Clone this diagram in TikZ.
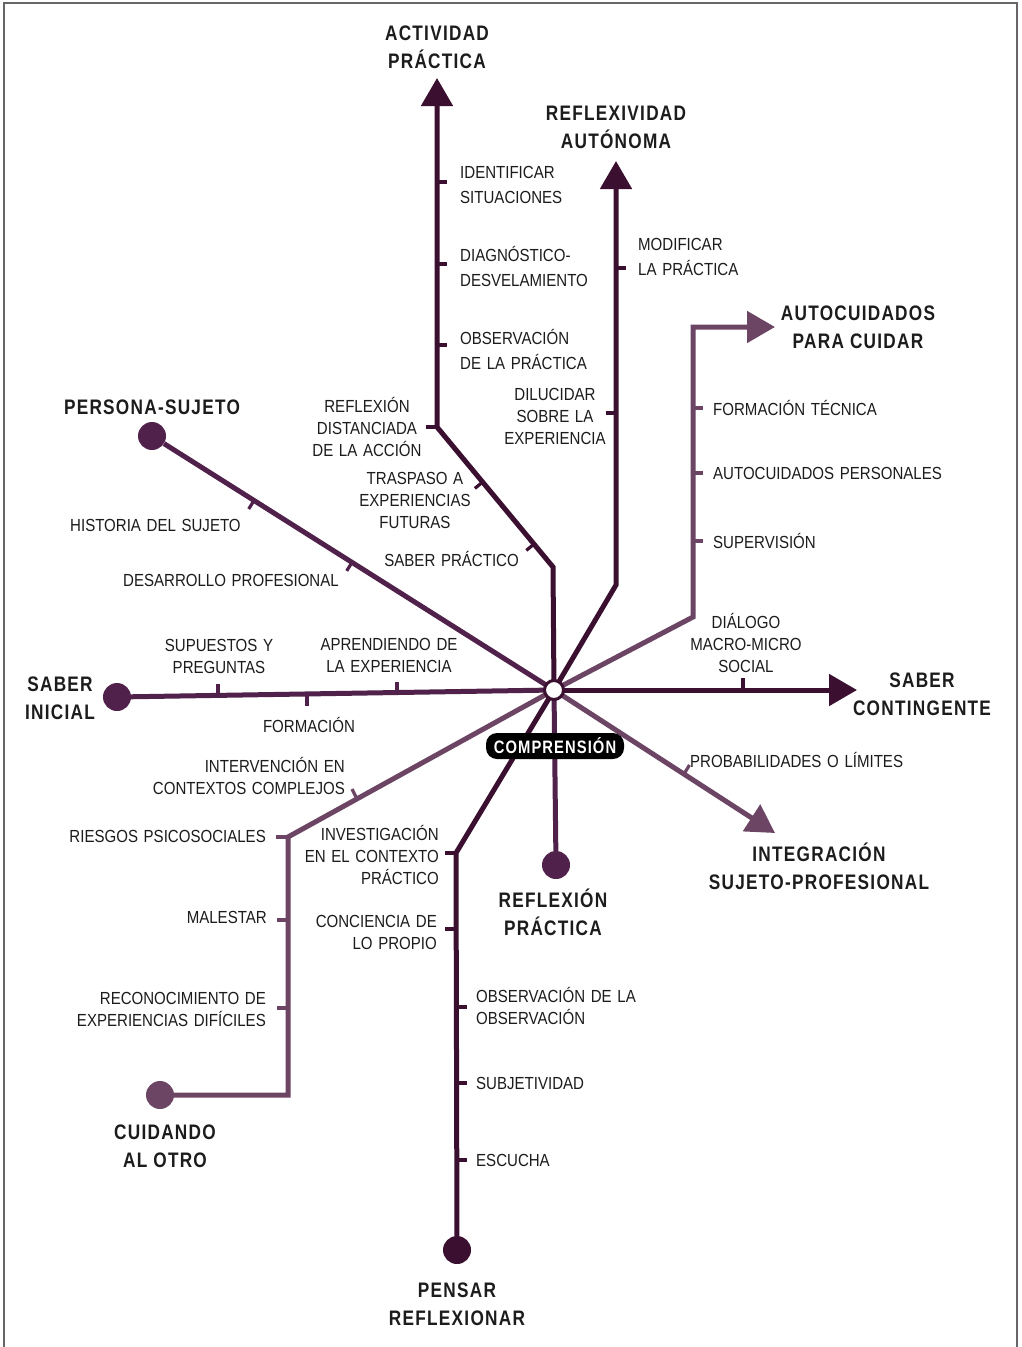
\documentclass[tikz,border=0pt]{standalone}
\usepackage{fontspec}
\setmainfont[FakeStretch=0.86,WordSpace=1.35]{Liberation Sans}
\newfontfamily\ttlfont[FakeStretch=0.82,LetterSpace=6]{Liberation Sans}
\usetikzlibrary{arrows.meta}
\definecolor{dk}{HTML}{3A0F30}
\definecolor{md}{HTML}{50214A}
\definecolor{lt}{HTML}{6C4464}
\definecolor{txt}{HTML}{1C1C1C}
\definecolor{framec}{HTML}{666666}
\tikzset{
  ln/.style={draw=#1, line width=5pt},
  tk/.style={draw=#1, line width=3.2pt},
  arr/.style={-{Triangle[length=28pt,width=31pt]}},
  dot/.style={circle, fill=#1, draw=none, minimum size=28pt, inner sep=0pt},
  hub/.style={circle, fill=white, draw=dk, line width=3pt, minimum size=19pt, inner sep=0pt},
  lbl/.style={font=\fontsize{17.5}{22}\selectfont, text=txt, inner sep=0pt},
  ttl/.style={font=\ttlfont\bfseries\fontsize{21}{28}\selectfont, text=txt, inner sep=0pt, align=center},
  cbox/.style={fill=black, rounded corners=11pt, minimum width=138pt, minimum height=26pt, inner sep=0pt,
     text=white, font=\ttlfont\bfseries\fontsize{18}{18}\selectfont},
}
\begin{document}
\begin{tikzpicture}[x=1pt,y=-1pt]
\useasboundingbox (0,0) rectangle (1021,1347);
\fill[white] (0,0) rectangle (1021,1347);
\draw[framec, line width=1.6pt] (4,1347) -- (4,3) -- (1017,3) -- (1017,1347);

\coordinate (c) at (554,690);
% bend points and arrow ends
\coordinate (ap1) at (553,567);
\coordinate (ap2) at (437,427);
\coordinate (apE) at (437,78);
\coordinate (ra1) at (616,585);
\coordinate (raE) at (616,161);
\coordinate (ac1) at (693,617);
\coordinate (ac2) at (693,327);
\coordinate (acE) at (775,327);
\coordinate (scE) at (857,690);
\coordinate (isE) at (775,833);
\coordinate (pr1) at (456,853);
\coordinate (cu1) at (288,837);
\coordinate (cu2) at (288,1095);

% end circles
\node[dot=md] (ps) at (152,436) {};
\node[dot=md] (si) at (117,697) {};
\node[dot=md] (rp) at (556,865) {};
\node[dot=dk] (pr) at (457,1250) {};
\node[dot=lt] (cu) at (160,1095) {};

% main lines
\draw[ln=lt, arr] (c) -- (ac1) -- (ac2) -- (acE);
\draw[ln=lt, arr] (c) -- (isE);
\draw[ln=lt] (c) -- (cu1) -- (cu2) -- (cu);
\draw[ln=md] (ps) -- (c);
\draw[ln=md] (si) -- (c);
\draw[ln=md] (c) -- (rp);
\draw[ln=dk, arr] (c) -- (ap1) -- (ap2) -- (apE);
\draw[ln=dk, arr] (c) -- (ra1) -- (raE);
\draw[ln=dk, arr] (c) -- (scE);
\draw[ln=dk] (c) -- (pr1) -- (pr);

% ticks
\draw[tk=dk] (437,182) -- +(10,0);
\draw[tk=dk] (437,264) -- +(10,0);
\draw[tk=dk] (437,345) -- +(10,0);
\draw[tk=dk] (437,427) -- +(-11,0);
\draw[tk=dk] (482.6,482) -- +(-7.7,6.4);
\draw[tk=dk] (534,544) -- +(-7.7,6.4);
\draw[tk=dk] (616,268) -- +(10,0);
\draw[tk=dk] (616,413) -- +(-10,0);
\draw[tk=lt] (693,408) -- +(10,0);
\draw[tk=lt] (693,473) -- +(10,0);
\draw[tk=lt] (693,541) -- +(10,0);
\draw[tk=dk] (743,690) -- +(0,-12);
\draw[tk=lt] (684,774) -- +(5.5,-9);
\draw[tk=dk] (456,853) -- +(-11,0);
\draw[tk=dk] (456,929) -- +(-11,0);
\draw[tk=dk] (456,1007) -- +(11,0);
\draw[tk=dk] (456,1083) -- +(11,0);
\draw[tk=dk] (456,1160) -- +(11,0);
\draw[tk=lt] (288,837) -- +(-12,0);
\draw[tk=lt] (288,920) -- +(-11,0);
\draw[tk=lt] (288,1008) -- +(-11,0);
\draw[tk=lt] (357,799) -- +(-5,-10);
\draw[tk=md] (218,695.4) -- +(0,-11);
\draw[tk=md] (307,694) -- +(0,12);
\draw[tk=md] (397,692.5) -- +(0,-11);
\draw[tk=md] (254,500.5) -- +(-5.3,8.5);
\draw[tk=md] (352,562.4) -- +(-5.3,8.5);

% hub and comprension
\node[hub] (hub) at (c) {};
\node[cbox] (comp) at (555,746) {COMPRENSIÓN};

% titles
\node[ttl] (tAP) at (437,47) {ACTIVIDAD\\PRÁCTICA};
\node[ttl] (tRA) at (616,127) {REFLEXIVIDAD\\AUTÓNOMA};
\node[ttl] (tAC) at (858,327) {AUTOCUIDADOS\\PARA CUIDAR};
\node[ttl] (tPS) at (152,407) {PERSONA-SUJETO};
\node[ttl] (tSI) at (60,698) {SABER\\INICIAL};
\node[ttl] (tSC) at (922,694) {SABER\\CONTINGENTE};
\node[ttl] (tIS) at (819,866) {INTEGRACIÓN\\SUJETO-PROFESIONAL};
\node[ttl] (tRP) at (553,912) {REFLEXIÓN\\PRÁCTICA};
\node[ttl] (tCU) at (165,1146) {CUIDANDO\\AL OTRO};
\node[ttl] (tPR) at (457,1304) {PENSAR\\REFLEXIONAR};

% small labels
\node[lbl, anchor=west, align=left] (l1) at (460,185) {IDENTIFICAR\\[3pt]SITUACIONES};
\node[lbl, anchor=west, align=left] (l2) at (460,266) {DIAGNÓSTICO-\\[3pt]DESVELAMIENTO};
\node[lbl, anchor=west, align=left] (l3) at (460,349) {OBSERVACIÓN\\[3pt]DE LA PRÁCTICA};
\node[lbl, align=center] (l4) at (367,427) {REFLEXIÓN\\DISTANCIADA\\DE LA ACCIÓN};
\node[lbl, align=center] (l5) at (415,500) {TRASPASO A\\EXPERIENCIAS\\FUTURAS};
\node[lbl, anchor=east] (l6) at (519,559) {SABER PRÁCTICO};
\node[lbl, anchor=west, align=left] (l7) at (638,257) {MODIFICAR\\[3pt]LA PRÁCTICA};
\node[lbl, align=center] (l8) at (555,416) {DILUCIDAR\\SOBRE LA\\EXPERIENCIA};
\node[lbl, anchor=west] (l9) at (713,408) {FORMACIÓN TÉCNICA};
\node[lbl, anchor=west] (l10) at (713,473) {AUTOCUIDADOS PERSONALES};
\node[lbl, anchor=west] (l11) at (713,541) {SUPERVISIÓN};
\node[lbl, align=center] (l12) at (746,643) {DIÁLOGO\\MACRO-MICRO\\SOCIAL};
\node[lbl, anchor=west] (l13) at (690,760) {PROBABILIDADES O LÍMITES};
\node[lbl, anchor=west] (l14) at (70,525) {HISTORIA DEL SUJETO};
\node[lbl, anchor=west] (l15) at (123,580) {DESARROLLO PROFESIONAL};
\node[lbl, align=center] (l16) at (219,656) {SUPUESTOS Y\\PREGUNTAS};
\node[lbl, align=center] (l17) at (389,655) {APRENDIENDO DE\\LA EXPERIENCIA};
\node[lbl] (l18) at (309,725) {FORMACIÓN};
\node[lbl, anchor=east, align=right] (l19) at (345,776) {INTERVENCIÓN EN\\CONTEXTOS COMPLEJOS};
\node[lbl, anchor=east] (l20) at (266,836) {RIESGOS PSICOSOCIALES};
\node[lbl, anchor=east] (l21) at (267,917) {MALESTAR};
\node[lbl, anchor=east, align=right] (l22) at (266,1009) {RECONOCIMIENTO DE\\EXPERIENCIAS DIFÍCILES};
\node[lbl, anchor=east, align=right] (l23) at (439,855) {INVESTIGACIÓN\\EN EL CONTEXTO\\PRÁCTICO};
\node[lbl, anchor=east, align=right] (l24) at (437,932) {CONCIENCIA DE\\LO PROPIO};
\node[lbl, anchor=west, align=left] (l25) at (476,1006) {OBSERVACIÓN DE LA\\OBSERVACIÓN};
\node[lbl, anchor=west] (l26) at (476,1083) {SUBJETIVIDAD};
\node[lbl, anchor=west] (l27) at (476,1160) {ESCUCHA};
\end{tikzpicture}
\end{document}
